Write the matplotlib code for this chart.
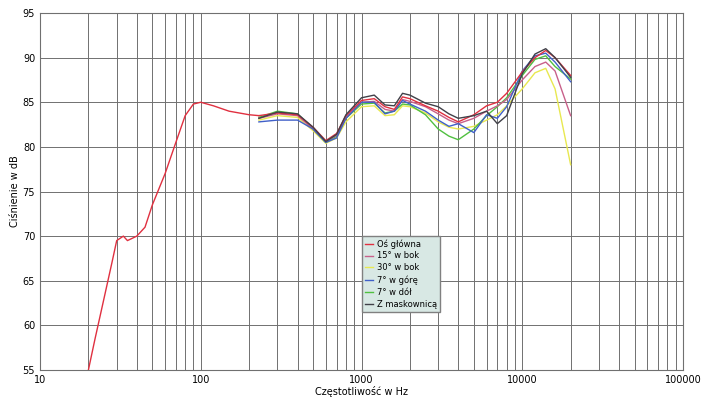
import matplotlib
matplotlib.use("Agg")
import matplotlib.pyplot as plt
from matplotlib.ticker import FixedLocator, NullFormatter

main_f = [20, 22, 25, 28, 30, 33, 35, 40, 45, 50, 60, 70, 80, 90, 100, 120, 150, 200]
main_v = [55, 58.5, 63, 67, 69.5, 70, 69.5, 70, 71, 73.5, 77, 80.5, 83.5, 84.8, 85, 84.6, 84, 83.6]

f = [230, 300, 400, 500, 600, 700, 800, 1000, 1200, 1400, 1600, 1800, 2000, 2500, 3000, 3500, 4000, 5000, 6000, 7000, 8000, 10000, 12000, 14000, 16000, 20000]
os_glowna = [83.5, 83.8, 83.6, 82.2, 80.7, 81.5, 83.5, 85.2, 85.4, 84.5, 84.2, 85.6, 85.4, 84.6, 84.0, 83.3, 82.8, 83.6, 84.6, 85.0, 86.0, 88.4, 90.0, 90.8, 90.0, 88.0]
w15 = [83.2, 83.7, 83.5, 82.0, 80.6, 81.3, 83.3, 85.0, 85.1, 84.2, 84.0, 85.3, 85.1, 84.5, 83.7, 83.0, 82.6, 83.2, 84.0, 84.6, 85.3, 87.5, 89.0, 89.5, 88.5, 83.5]
w30 = [83.0, 83.5, 83.3, 81.8, 80.4, 81.0, 82.8, 84.5, 84.6, 83.5, 83.6, 84.6, 84.5, 83.8, 82.8, 82.2, 82.0, 82.3, 83.0, 83.6, 84.6, 86.5, 88.3, 88.8, 86.5, 78.0]
gora7 = [82.8, 83.0, 83.0, 82.0, 80.5, 81.0, 83.2, 85.0, 85.0, 83.7, 84.0, 85.2, 84.8, 84.0, 83.0, 82.3, 82.6, 81.6, 83.6, 83.2, 84.5, 88.5, 90.2, 90.5, 89.5, 87.3]
dol7 = [83.3, 84.0, 83.7, 82.0, 80.5, 81.2, 83.2, 84.8, 84.9, 83.8, 84.0, 84.8, 84.7, 83.6, 82.0, 81.2, 80.8, 82.0, 83.5, 84.5, 85.5, 88.0, 89.8, 90.2, 89.0, 87.6]
maskow = [83.2, 83.9, 83.7, 82.2, 80.6, 81.4, 83.6, 85.5, 85.8, 84.7, 84.6, 86.0, 85.8, 84.9, 84.5, 83.7, 83.2, 83.5, 84.0, 82.6, 83.5, 88.2, 90.4, 91.0, 90.0, 87.8]

names = ["Oś główna", "15° w bok", "30° w bok", "7° w górę", "7° w dół", "Z maskownicą"]
colors = ["#e03040", "#c8608a", "#e8e850", "#4060c8", "#50c040", "#404048"]

fig = plt.figure(figsize=(7.05, 4.03), dpi=100)
ax = fig.add_axes([40/705, 1-370/403, 643/705, 357/403])
ax.set_xscale("log")
ax.set_xlim(10, 100000)
ax.set_ylim(55, 95)

ax.plot(main_f + f[:1], main_v + os_glowna[:1], color=colors[0], lw=1)
series = [os_glowna, w15, w30, gora7, dol7, maskow]
order = [2, 4, 1, 3, 0, 5]
lines = {}
for i in order:
    l, = ax.plot(f, series[i], color=colors[i], lw=1)
    lines[i] = l

ax.set_yticks(range(55, 96, 5))
ax.set_xticks([10, 100, 1000, 10000, 100000])
ax.set_xticklabels(["10", "100", "1000", "10000", "100000"])
minors = [m * 10**e for e in range(1, 5) for m in range(2, 10)]
ax.xaxis.set_minor_locator(FixedLocator(minors))
ax.xaxis.set_minor_formatter(NullFormatter())
ax.grid(True, which="both", color="#707070", lw=0.7)
ax.tick_params(labelsize=7, length=0, which="both")
for s in ax.spines.values():
    s.set_color("#707070")
ax.set_xlabel("Częstotliwość w Hz", fontsize=7, labelpad=1)
ax.set_ylabel("Ciśnienie w dB", fontsize=7, labelpad=2)

leg = ax.legend([lines[i] for i in range(6)], names, loc="upper left",
                bbox_to_anchor=(318/643, (370-232)/357), fontsize=6,
                frameon=True, fancybox=False, handlelength=1.0,
                borderpad=0.35, labelspacing=0.35, handletextpad=0.4)
leg.get_frame().set_facecolor("#d8e8e4")
leg.get_frame().set_edgecolor("#808080")
leg.get_frame().set_alpha(1)

fig.savefig("out.png", dpi=100)
